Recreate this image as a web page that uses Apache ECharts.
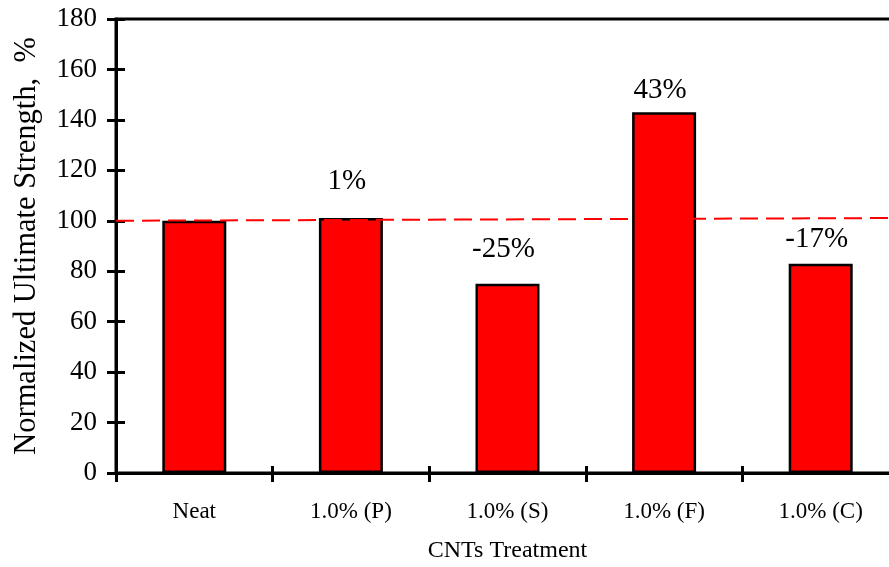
<!DOCTYPE html>
<html>
<head>
<meta charset="utf-8">
<script src="https://cdn.jsdelivr.net/npm/echarts@6/dist/echarts.min.js"></script>
<style>
html,body{margin:0;padding:0;background:#fff;}
#chart{width:889px;height:567px;}
</style>
</head>
<body>
<div id="chart"></div>
<script>
// ---- data ----
const categories = ['Neat', '1.0% (P)', '1.0% (S)', '1.0% (F)', '1.0% (C)'];
const strengthValues = [100, 101.1, 75, 143, 83];
const changeLabels = ['', '1%', '-25%', '43%', '-17%'];
const refLineX = [0, 1];
const refLineY = [100, 101.1];
const yTicks = { min: 0, max: 180, interval: 20 };

// ---- styling ----
const FONT = 'Liberation Serif';
const labelGaps = [0, 22, 20, 7, 10];

const chart = echarts.init(document.getElementById('chart'));

const barData = strengthValues.map((v, i) => ({
  value: v,
  label: {
    show: changeLabels[i] !== '',
    position: 'top',
    distance: labelGaps[i],
    offset: [-4, 0],
    formatter: () => changeLabels[i],
    fontFamily: FONT,
    fontSize: 29,
    color: '#000'
  }
}));

const catAxisBase = {
  type: 'category',
  data: categories,
  position: 'bottom',
  boundaryGap: true,
  axisLine: { show: true, lineStyle: { color: '#000', width: 3 } },
  splitLine: { show: false }
};

const option = {
  backgroundColor: '#fff',
  animation: false,
  grid: {
    left: 116, width: 783, top: 19, height: 454,
    outerBoundsMode: 'none',
    containLabel: false,
    show: true, borderColor: '#000', borderWidth: 3, backgroundColor: 'transparent'
  },
  xAxis: [
    Object.assign({}, catAxisBase, {
      name: 'CNTs Treatment',
      nameLocation: 'middle',
      nameGap: 66,
      nameTextStyle: { fontFamily: FONT, fontSize: 24, color: '#000' },
      axisTick: { show: true, inside: false, length: 9, lineStyle: { color: '#000', width: 3 } },
      axisLabel: { fontFamily: FONT, fontSize: 23, color: '#000', margin: 27 }
    }),
    Object.assign({}, catAxisBase, {
      axisTick: { show: true, inside: true, length: 7, lineStyle: { color: '#000', width: 3 } },
      axisLabel: { show: false }
    }),
    {
      type: 'value', min: 0, max: 1, show: false
    }
  ],
  yAxis: [
    {
      type: 'value',
      min: yTicks.min, max: yTicks.max, interval: yTicks.interval,
      name: 'Normalized Ultimate Strength,  %',
      nameLocation: 'middle',
      nameGap: 74,
      nameTextStyle: { fontFamily: FONT, fontSize: 30.5, color: '#000' },
      axisLine: { show: true, lineStyle: { color: '#000', width: 3 } },
      axisTick: { show: true, inside: false, length: 9, lineStyle: { color: '#000', width: 3 } },
      axisLabel: { fontFamily: FONT, fontSize: 27, color: '#000', margin: 19 },
      splitLine: { show: false }
    },
    {
      type: 'value',
      min: yTicks.min, max: yTicks.max, interval: yTicks.interval,
      position: 'left',
      axisLine: { show: false },
      axisTick: { show: true, inside: true, length: 9, lineStyle: { color: '#000', width: 3 } },
      axisLabel: { show: false },
      splitLine: { show: false }
    }
  ],
  series: [
    {
      type: 'bar',
      xAxisIndex: 0,
      yAxisIndex: 0,
      data: barData,
      barWidth: 64,
      itemStyle: { color: '#ff0000', borderColor: '#000', borderWidth: 2.5 },
      z: 2
    },
    {
      type: 'line',
      xAxisIndex: 2,
      yAxisIndex: 0,
      data: refLineX.map((x, i) => [x, refLineY[i]]),
      symbol: 'none',
      lineStyle: { color: '#ff0000', width: 2, type: [18, 8] },
      z: 5,
      silent: true
    }
  ]
};

chart.setOption(option);
</script>
</body>
</html>
